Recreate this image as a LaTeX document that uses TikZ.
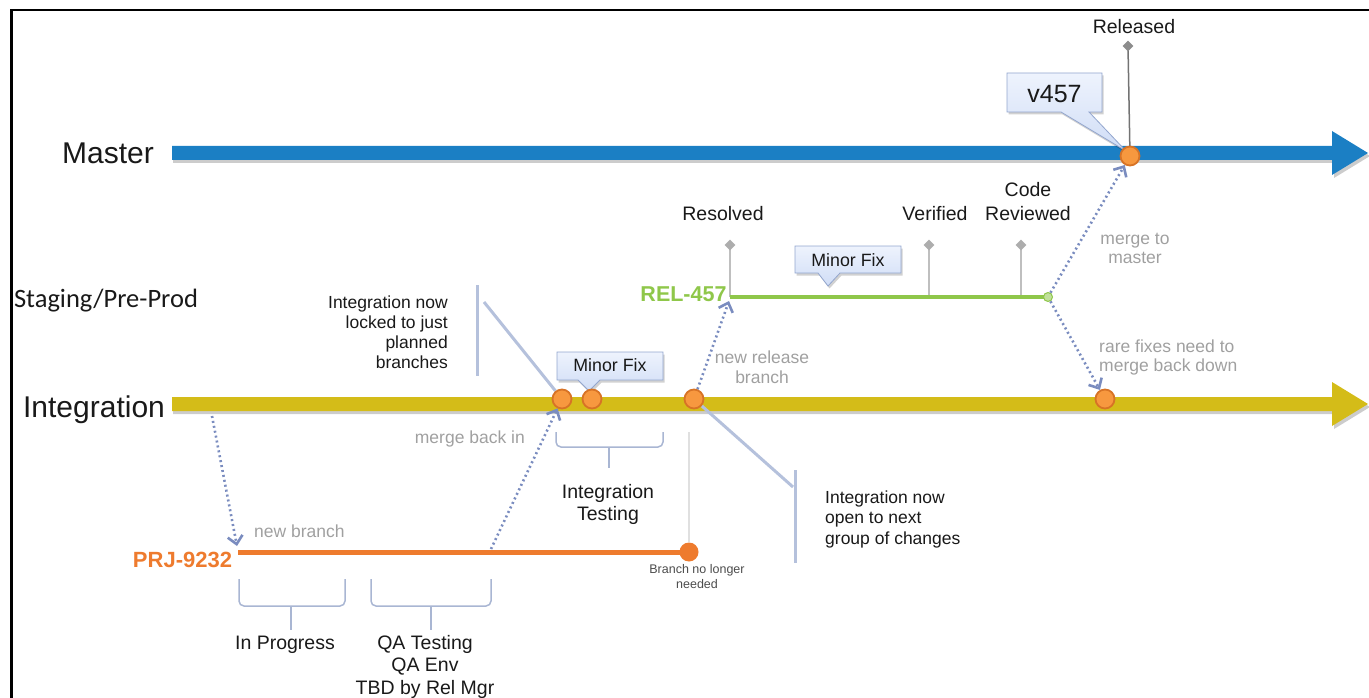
\documentclass[tikz,border=0pt]{standalone}
\usepackage{fontspec}
\setmainfont{Liberation Sans}
\newfontfamily\calibri{Carlito}
\usetikzlibrary{arrows.meta,shapes.geometric}
\definecolor{mblue}{HTML}{1B7FC4}
\definecolor{iyellow}{HTML}{D4BC18}
\definecolor{oFill}{HTML}{F7983F}
\definecolor{oDark}{HTML}{D77326}
\definecolor{prjOrange}{HTML}{EE7B2E}
\definecolor{relGreen}{HTML}{8FC74A}
\definecolor{dotBlue}{HTML}{7A8CBF}
\definecolor{callLine}{HTML}{B5C1DC}
\definecolor{brkLine}{HTML}{A9B6D3}
\definecolor{softGray}{HTML}{A0A0A0}
\definecolor{boxTop}{HTML}{EEF3FD}
\definecolor{boxBot}{HTML}{D0DDF6}
\definecolor{boxEdge}{HTML}{93A6CE}
\newcommand\fsz[2]{\fontsize{#1}{#2}\selectfont}
\pgfdeclarelayer{bglayer}
\pgfdeclarelayer{midlayer}
\pgfsetlayers{bglayer,midlayer,main}
\newcommand\mybubble[8]{%
  \begin{scope}[shift={(1.5,2.5)}]
    \fill[black,opacity=0.18] (#1,#2) -- (#3,#2) -- (#3,#4) -- (#6,#4) -- (#7,#8) -- (#5,#4) -- (#1,#4) -- cycle;
  \end{scope}
  \path[bubble] (#1,#2) -- (#3,#2) -- (#3,#4) -- (#6,#4) -- (#7,#8) -- (#5,#4) -- (#1,#4) -- cycle;}
\tikzset{
  txt/.style={inner sep=0, text=black!90},
  soft/.style={inner sep=0, text=softGray},
  commit/.style={circle, draw=oDark, fill=oFill, line width=1.8pt, minimum size=19pt, inner sep=0},
  mergearrow/.style={draw=dotBlue, line width=2.6pt, dash pattern=on 2pt off 3pt,
     -{Straight Barb[length=8pt,width=15pt,line width=2.6pt]}},
  calloutline/.style={draw=callLine, line width=3pt},
  bracket/.style={draw=brkLine, line width=1.5pt, rounded corners=5pt},
  stagetick/.style={draw=black!25, line width=1.5pt},
  diam/.style={diamond, fill=black!32, minimum width=11pt, minimum height=11pt, inner sep=0},
  bubble/.style={draw=boxEdge, line width=0.8pt, top color=boxTop, bottom color=boxBot},
}
\begin{document}
\begin{tikzpicture}[x=1pt,y=-1pt]
\useasboundingbox (0,0) rectangle (1369,698);
% frame
\draw[line width=2.6pt, black] (11.5,698) -- (11.5,10) -- (1369,10);

% big arrows
\begin{pgfonlayer}{bglayer}
  \fill[black,opacity=.2] (173,149) -- (1334,149) -- (1334,134) -- (1370,156) -- (1334,178) -- (1334,163) -- (173,163) -- cycle;
  \fill[mblue] (172,146) -- (1332,146) -- (1332,131) -- (1368,153) -- (1332,175) -- (1332,160) -- (172,160) -- cycle;
  \fill[black,opacity=.2] (173,400) -- (1334,400) -- (1334,385) -- (1370,407) -- (1334,429) -- (1334,414) -- (173,414) -- cycle;
  \fill[iyellow] (172,397) -- (1332,397) -- (1332,382) -- (1368,404) -- (1332,426) -- (1332,411) -- (172,411) -- cycle;
\end{pgfonlayer}

% commits and markers
\node[commit] (c1) at (562,399) {};
\node[commit] (c2) at (592,399) {};
\node[commit] (c3) at (694,399) {};
\node[commit] (c4) at (1105,399) {};
\node[commit] (cm) at (1130,156) {};
\node[circle, fill=prjOrange, minimum size=19pt, inner sep=0] (pend) at (689,552) {};
\node[circle, draw=relGreen, fill=relGreen!55!white, line width=1pt, minimum size=9pt, inner sep=0] (relE) at (1048,297) {};
\node[diam, fill=black!45] (dRel) at (1128,46) {};
\node[diam] (dRes) at (730,245) {};
\node[diam] (dVer) at (929,245) {};
\node[diam] (dCod) at (1021,245) {};

\coordinate (relS) at (730,297);
\coordinate (prjS) at (238,552);
\coordinate (intB) at (212,416);
\coordinate (prjT) at (237,546);
\coordinate (prjM) at (491,549);
\coordinate (relT) at (729,301);

\begin{pgfonlayer}{midlayer}
  % faint line to PRJ end
  \draw[black!12, line width=1.5pt] (689,432) -- (pend);
  % ticks
  \draw[black!55, line width=1.5pt] (dRel.center) -- (cm.center);
  \draw[stagetick] (dRes.center) -- (730,297);
  \draw[stagetick] (dVer.center) -- (929,297);
  \draw[stagetick] (dCod.center) -- (1021,297);
  % branch lines
  \draw[relGreen, line width=4.5pt] (relS) -- (relE.center);
  \draw[prjOrange, line width=5pt] (prjS) -- (pend.center);
  % callout lines
  \draw[calloutline] (477,285) -- (477,376);
  \draw[calloutline] (484,302) -- (c1);
  \draw[calloutline] (c3) -- (793,487);
  \draw[calloutline] (795,470) -- (795,563);
  % brackets
  \draw[bracket] (556,432) -- (556,447) -- (663,447) -- (663,432);
  \draw[bracket] (609,447) -- (609,468);
  \draw[bracket] (239,579) -- (239,606) -- (345,606) -- (345,579);
  \draw[bracket] (291,606) -- (291,630);
  \draw[bracket] (371,579) -- (371,606) -- (491,606) -- (491,579);
  \draw[bracket] (431,606) -- (431,630);
  % bubbles
  \mybubble{1007}{73}{1102}{112}{1061}{1089}{1126}{151}
  \mybubble{795}{246}{901}{273}{818}{840}{828}{286}
  \mybubble{557}{352}{663}{380}{578}{600}{589}{391}
\end{pgfonlayer}

% merge connectors
\draw[mergearrow] (intB) -- (prjT);
\draw[mergearrow] (prjM) -- (c1);
\draw[mergearrow] (c3) -- (relT);
\draw[mergearrow] (relE) -- (cm);
\draw[mergearrow] (relE) -- (c4);

% branch labels
\node[txt, anchor=base, font={\fsz{30}{36}}] (master) at (108,164) {Master};
\node[txt, anchor=base, font={\fsz{30}{36}}] (integ) at (94,417) {Integration};
\node[txt, anchor=base, font={\calibri\fsz{26.5}{32}}] (staging) at (106,307) {Staging/Pre-Prod};
\node[inner sep=0, anchor=base, text=relGreen, font={\bfseries\fsz{21.5}{26}}] (rel) at (683.5,301) {REL-457};
\node[inner sep=0, anchor=base, text=prjOrange, font={\bfseries\fsz{22}{26}}] (prj) at (182.5,567) {PRJ-9232};

% bubble texts
\node[txt, anchor=base, font={\fsz{25}{30}}] (v457) at (1054.5,103) {v457};
\node[txt, anchor=base, font={\fsz{17.8}{21}}] (mfix1) at (848,266) {Minor Fix};
\node[txt, anchor=base, font={\fsz{17.8}{21}}] (mfix2) at (610,371) {Minor Fix};

% state labels
\node[txt, anchor=base, font={\fsz{19.5}{24}}] (released) at (1134,34) {Released};
\node[txt, anchor=base, font={\fsz{19.5}{24}}] (resolved) at (723,220) {Resolved};
\node[txt, anchor=base, font={\fsz{19.5}{24}}] (verified) at (935,220) {Verified};
\node[txt, anchor=north, align=center, font={\fsz{19.5}{24}}] (coderev) at (1028,182) {Code\\Reviewed};

% grey notes
\node[soft, anchor=north, align=center, font={\fsz{17.5}{19}}] (mtm) at (1135,232.5) {merge to\\master};
\node[soft, anchor=north west, align=left, font={\fsz{17.5}{19.5}}] (rare) at (1099,339.5) {rare fixes need to\\merge back down};
\node[soft, anchor=north, align=center, font={\fsz{17.5}{20}}] (nrb) at (762,350.5) {new release\\branch};
\node[soft, anchor=base east, font={\fsz{17.5}{20}}] (mbi) at (525,443) {merge back in};
\node[soft, anchor=base west, font={\fsz{17.5}{20}}] (nb) at (254,537) {new branch};

% black notes
\node[txt, anchor=north east, align=right, font={\fsz{17.5}{20}}] (locked) at (448,295.5) {Integration now\\locked to just\\planned\\branches};
\node[txt, anchor=north west, align=left, font={\fsz{17.5}{20.5}}] (open) at (825,490.5) {Integration now\\open to next\\group of changes};
\node[txt, anchor=north, align=center, font={\fsz{19.5}{22}}] (itest) at (608,484) {Integration\\Testing};
\node[inner sep=0, text=black!70, anchor=north, align=center, font={\fsz{12.5}{15}}] (bnl) at (697,564) {Branch no longer\\needed};
\node[txt, anchor=base, font={\fsz{19.5}{24}}] (inprog) at (285,649) {In Progress};
\node[txt, anchor=north, align=center, font={\fsz{19.5}{22.5}}] (qa) at (425,635) {QA Testing\\QA Env\\TBD by Rel Mgr};
\end{tikzpicture}
\end{document}
